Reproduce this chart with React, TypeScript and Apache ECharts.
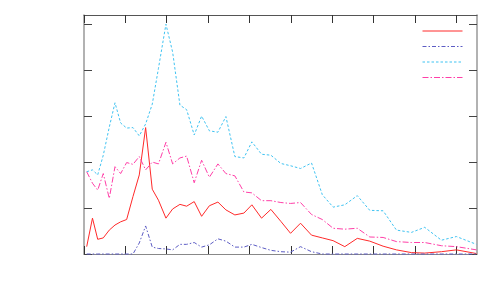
import React, { useEffect, useRef } from "react";
import * as echarts from "echarts";

// x positions of the samples (axis units, ticks every 10)
const xValues = [0.65, 2.05, 3.31, 4.66, 6.11, 7.49, 8.86, 10.31, 11.84, 13.36, 14.9, 16.5, 18.0, 19.81, 21.43, 23.19, 24.81, 26.64, 28.43, 30.31, 32.37, 34.3, 36.47, 38.65, 40.58, 42.92, 45.17, 47.58, 49.93, 52.34, 55.0, 57.61, 60.22, 63.04, 66.06, 69.08, 72.3, 75.53, 79.15, 82.37, 86.4, 90.02, 94.86];

const redValues = [0.16, 0.78, 0.32, 0.35, 0.52, 0.63, 0.7, 0.75, 1.25, 1.72, 2.75, 1.41, 1.17, 0.78, 0.98, 1.08, 1.04, 1.14, 0.82, 1.05, 1.13, 0.96, 0.85, 0.89, 1.07, 0.78, 0.97, 0.71, 0.45, 0.67, 0.41, 0.35, 0.29, 0.16, 0.34, 0.28, 0.17, 0.09, 0.03, 0.02, 0.05, 0.09, 0.01];

const blueValues = [0, 0, 0, 0, 0, 0, 0, 0, 0, 0.24, 0.61, 0.15, 0.12, 0.11, 0.09, 0.21, 0.21, 0.25, 0.15, 0.2, 0.33, 0.28, 0.15, 0.15, 0.21, 0.14, 0.08, 0.05, 0.04, 0.16, 0.05, 0, 0, 0, 0, 0, 0, 0, 0, 0, 0, 0, 0];

const cyanValues = [1.79, 1.83, 1.72, 2.15, 2.76, 3.29, 2.85, 2.74, 2.75, 2.57, 2.83, 3.26, 4.04, 5.0, 4.39, 3.24, 3.14, 2.59, 3.0, 2.68, 2.65, 2.99, 2.12, 2.09, 2.44, 2.17, 2.15, 1.97, 1.92, 1.86, 1.98, 1.29, 1.02, 1.07, 1.27, 0.95, 0.94, 0.52, 0.47, 0.58, 0.3, 0.38, 0.21];

const pinkValues = [1.79, 1.54, 1.39, 1.75, 1.21, 1.9, 1.75, 1.99, 1.95, 2.12, 1.83, 2.0, 1.96, 2.43, 1.96, 2.09, 2.13, 1.55, 2.04, 1.67, 1.96, 1.75, 1.7, 1.35, 1.33, 1.16, 1.16, 1.12, 1.1, 1.12, 0.86, 0.75, 0.56, 0.54, 0.56, 0.37, 0.36, 0.27, 0.25, 0.25, 0.18, 0.16, 0.09];

const xTicks = [0, 10, 20, 30, 40, 50, 60, 70, 80, 90];
const yTicks = [0, 1, 2, 3, 4, 5];

const seriesNames = ["s1", "s2", "s3", "s4"];

function pairs(vals: number[]) {
  return xValues.map((x, i) => [x, vals[i]]);
}

export default function App() {
  const ref = useRef<HTMLDivElement>(null);
  useEffect(() => {
    if (!ref.current) return;
    const chart = echarts.init(ref.current, null, { renderer: "svg" });
    const tick = (color: string) => ({
      show: true,
      inside: true,
      length: 8,
      lineStyle: { color, width: 1 },
    });
    const xAxisBase = {
      type: "value" as const,
      min: 0,
      max: 95,
      interval: 10,
      splitLine: { show: false },
      axisLabel: { show: false },
    };
    const yAxisBase = {
      type: "value" as const,
      min: 0,
      max: 5.2,
      interval: 1,
      splitLine: { show: false },
      axisLabel: { show: false },
    };
    const mk = (name: string, vals: number[], color: string, type: any) => ({
      name,
      type: "line",
      data: pairs(vals),
      showSymbol: false,
      symbol: "none",
      clip: false,
      lineStyle: { color, width: 1, type },
      itemStyle: { color },
    });
    chart.setOption({
      animation: false,
      backgroundColor: "#ffffff",
      grid: { left: 84, right: 23, top: 15, bottom: 46 },
      legend: {
        orient: "vertical",
        left: 422,
        top: 24,
        padding: 0,
        itemWidth: 40,
        itemHeight: 14,
        itemGap: 2.9,
        formatter: () => "",
        data: seriesNames,
        textStyle: { fontSize: 1 },
        itemStyle: { opacity: 0, borderWidth: 0 },
        lineStyle: { width: 1 },
      },
      xAxis: [
        {
          ...xAxisBase,
          position: "bottom",
          axisLine: { show: true, onZero: false, lineStyle: { color: "#888", width: 1 } },
          axisTick: { ...tick("#333"), customValues: xTicks },
        },
        {
          ...xAxisBase,
          position: "top",
          axisLine: { show: true, onZero: false, lineStyle: { color: "#555", width: 1 } },
          axisTick: { ...tick("#333"), customValues: xTicks },
        },
      ],
      yAxis: [
        {
          ...yAxisBase,
          position: "left",
          axisLine: { show: true, onZero: false, lineStyle: { color: "#999", width: 1.5 } },
          axisTick: { ...tick("#444"), customValues: yTicks },
        },
        {
          ...yAxisBase,
          position: "right",
          axisLine: { show: true, onZero: false, lineStyle: { color: "#999", width: 1.5 } },
          axisTick: { ...tick("#444"), customValues: yTicks },
        },
      ],
      series: [
        mk(seriesNames[0], redValues, "#ff2a2a", "solid"),
        mk(seriesNames[1], blueValues, "#5c5cc4", [4, 2, 1.5, 2]),
        mk(seriesNames[2], cyanValues, "#3fc3f2", [2.5, 2]),
        mk(seriesNames[3], pinkValues, "#ff3fa8", [6, 2, 1.5, 2]),
      ],
    });
    return () => chart.dispose();
  }, []);
  return (
    <div
      ref={ref}
      style={{ position: "fixed", left: 0, top: 0, width: 500, height: 300, background: "#fff" }}
    />
  );
}
